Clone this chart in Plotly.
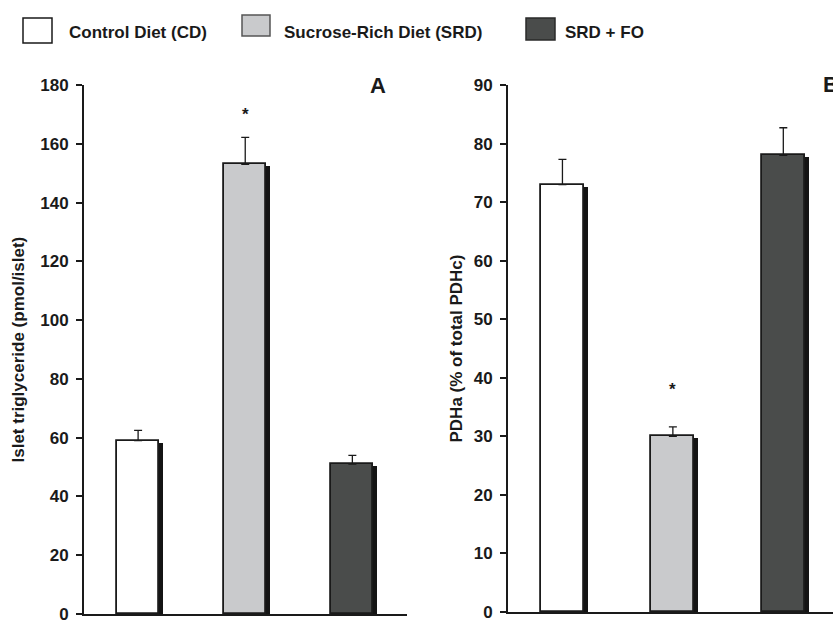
import plotly.graph_objects as go

# ---- data -------------------------------------------------------------
groups = ["Control Diet (CD)", "Sucrose-Rich Diet (SRD)", "SRD + FO"]
positions = [1, 2, 3]
fills = ["#ffffff", "#c9cacc", "#4a4c4b"]

# Panel A: islet triglyceride (pmol/islet)
tg_mean = [59, 153, 51]
tg_sem = [3.5, 9.2, 3.0]
tg_star_y = [None, 170, None]

# Panel B: PDHa (% of total PDHc)
pdh_mean = [73, 30, 78]
pdh_sem = [4.3, 1.6, 4.7]
pdh_star_y = [None, 38, None]

tg_ticks = list(range(0, 181, 20))
pdh_ticks = list(range(0, 91, 10))

# ---- layout constants (pixels) ------------------------------------------
W, H = 833, 620
FONT = "Liberation Sans, Arial, Helvetica, sans-serif"
INK = "#1a1a1a"
BAR_W = 0.39


def px_x(x):
    return x / W


def px_y(y):
    return (H - y) / H


panels = [
    dict(xa="x", ya="y", x_px=(84, 407), y_px=(614, 85), xr=[0.495, 3.51],
         yr=[0, 180], ticks=tg_ticks, mean=tg_mean, sem=tg_sem, star=tg_star_y,
         title="Islet triglyceride (pmol/islet)", title_x=18, tag="A", tag_xy=(378, 86)),
    dict(xa="x2", ya="y2", x_px=(508, 833), y_px=(612, 85), xr=[0.507, 3.45],
         yr=[0, 90], ticks=pdh_ticks, mean=pdh_mean, sem=pdh_sem, star=pdh_star_y,
         title="PDHa (% of total PDHc)", title_x=456, tag="B", tag_xy=(831, 84)),
]

fig = go.Figure()
annotations = []
shapes = []

for i, p in enumerate(panels):
    # unit conversion so the drop shadow sits a few pixels right/down
    y_units_per_px = (p["yr"][1] - p["yr"][0]) / (p["y_px"][0] - p["y_px"][1])
    x_units_per_px = (p["xr"][1] - p["xr"][0]) / (p["x_px"][1] - p["x_px"][0])
    drop = 2 * y_units_per_px
    shift = 4 * x_units_per_px

    # drop shadow behind each bar
    fig.add_trace(go.Bar(
        x=positions, y=[m - drop for m in p["mean"]],
        width=BAR_W, offset=-BAR_W / 2 + shift,
        marker=dict(color="#141414", line=dict(width=0)),
        xaxis=p["xa"], yaxis=p["ya"], showlegend=False, hoverinfo="skip",
    ))
    # the bars with upper SEM whiskers
    fig.add_trace(go.Bar(
        x=positions, y=p["mean"],
        width=BAR_W, offset=-BAR_W / 2,
        marker=dict(color=fills, line=dict(color=INK, width=1.8)),
        error_y=dict(type="data", symmetric=False, array=p["sem"],
                     arrayminus=[0] * len(p["sem"]), color=INK,
                     thickness=1.3, width=4),
        xaxis=p["xa"], yaxis=p["ya"], showlegend=False, name=p["tag"],
    ))

    # significance marks
    for xpos, sy in zip(positions, p["star"]):
        if sy is not None:
            annotations.append(dict(
                x=xpos, y=sy, xref=p["xa"], yref=p["ya"], text="*",
                showarrow=False, yanchor="middle",
                font=dict(family=FONT, size=17, color=INK, weight="bold")))

    # panel letter
    annotations.append(dict(
        x=px_x(p["tag_xy"][0]), y=px_y(p["tag_xy"][1]), xref="paper", yref="paper",
        text=p["tag"], showarrow=False, xanchor="center", yanchor="middle",
        font=dict(family=FONT, size=22, color=INK, weight="bold")))

    # y-axis title
    annotations.append(dict(
        x=px_x(p["title_x"]), y=px_y((p["y_px"][0] + p["y_px"][1]) / 2),
        xref="paper", yref="paper", text=p["title"], textangle=-90,
        showarrow=False, xanchor="center", yanchor="middle",
        font=dict(family=FONT, size=17, color=INK, weight="bold")))

    xdom = [px_x(p["x_px"][0]), px_x(p["x_px"][1])]
    ydom = [px_y(p["y_px"][0]), px_y(p["y_px"][1])]
    sfx = "" if i == 0 else "2"
    fig.update_layout(**{
        "xaxis" + sfx: dict(domain=xdom, range=p["xr"], showline=True, linewidth=2,
                            linecolor=INK, showticklabels=False, ticks="",
                            showgrid=False, zeroline=False, fixedrange=True,
                            automargin=False, anchor="y" + sfx),
        "yaxis" + sfx: dict(domain=ydom, range=p["yr"], tickvals=p["ticks"],
                            showline=True, linewidth=2, linecolor=INK,
                            ticks="outside", ticklen=6, tickwidth=1.5, tickcolor=INK,
                            ticklabelstandoff=4, ticklabeloverflow="allow",
                            tickfont=dict(family=FONT, size=17, color=INK, weight="bold"),
                            showgrid=False, zeroline=False, fixedrange=True,
                            automargin=False, anchor="x" + sfx),
    })

# ---- legend row (swatches + labels) ---------------------------------------
legend_items = [
    (groups[0], fills[0], (23, 18, 52, 43), INK, 67),
    (groups[1], fills[1], (242, 15, 270, 36), "#555555", 282),
    (groups[2], fills[2], (526, 18, 555, 40), "#2a2a2a", 563),
]
for label, fill, (x0, y0, x1, y1), edge, tx in legend_items:
    shapes.append(dict(type="rect", xref="paper", yref="paper",
                       x0=px_x(x0), x1=px_x(x1), y0=px_y(y1), y1=px_y(y0),
                       fillcolor=fill, line=dict(color=edge, width=1.5)))
    annotations.append(dict(
        x=px_x(tx), y=px_y(32), xref="paper", yref="paper", text=label,
        showarrow=False, xanchor="left", yanchor="middle",
        font=dict(family=FONT, size=17, color=INK, weight="bold")))

fig.update_layout(
    width=W, height=H, margin=dict(l=0, r=0, t=0, b=0, autoexpand=False),
    paper_bgcolor="white", plot_bgcolor="white",
    barmode="overlay", bargap=0,
    annotations=annotations, shapes=shapes,
    font=dict(family=FONT, color=INK),
)

fig.write_html("out.html")
